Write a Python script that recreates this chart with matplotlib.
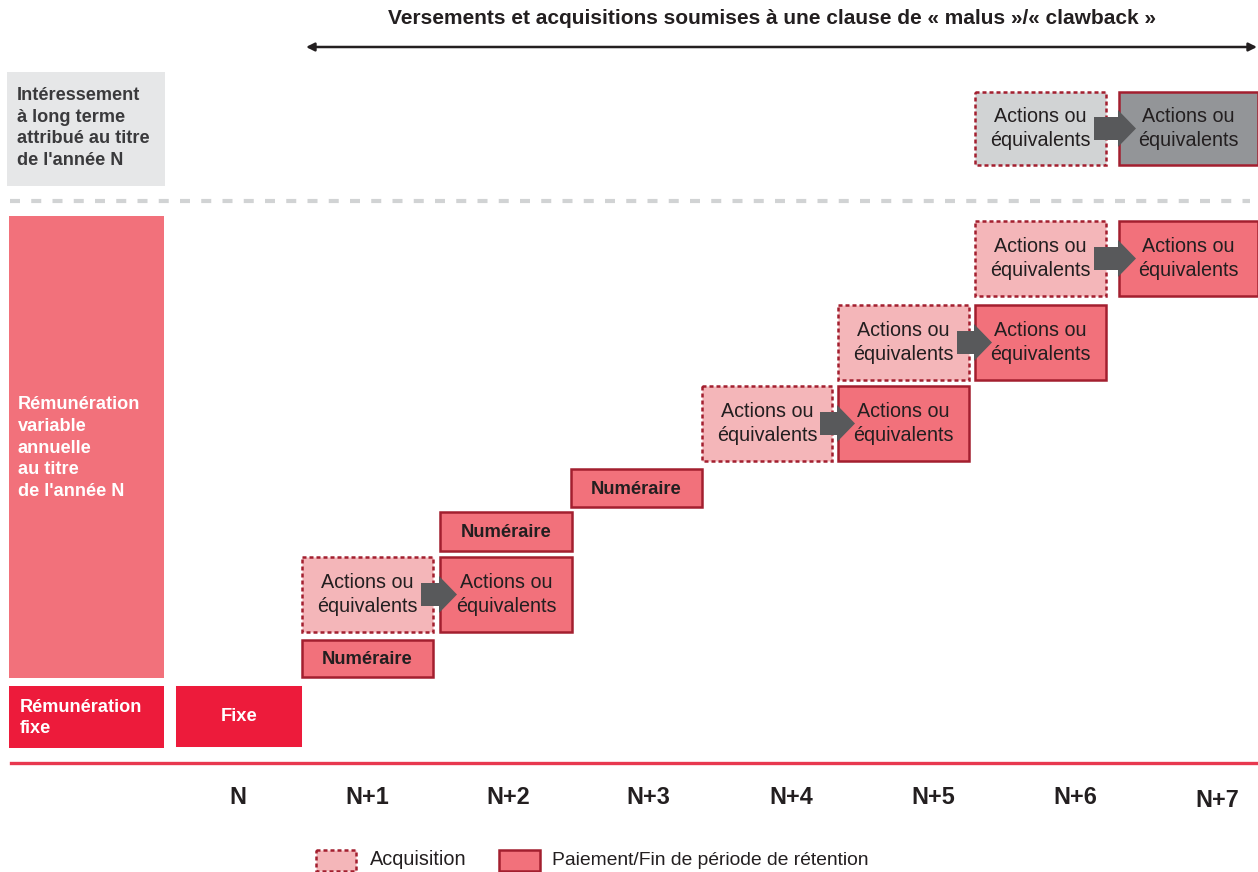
import matplotlib
matplotlib.use("Agg")
import matplotlib.pyplot as plt
from matplotlib.patches import Rectangle, FancyArrow

plt.rcParams['font.family'] = ['Liberation Sans', 'DejaVu Sans']

# ---------------- data ----------------
years = ['N', 'N+1', 'N+2', 'N+3', 'N+4', 'N+5', 'N+6', 'N+7']
title = "Versements et acquisitions soumises à une clause de « malus »/« clawback »"
row_titles = ["Intéressement\nà long terme\nattribué au titre\nde l'année N",
              "Rémunération\nvariable\nannuelle\nau titre\nde l'année N",
              "Rémunération\nfixe"]
# boxes: slot (timeline position), row, kind, label
box_slot = [0, 1, 1, 2, 2, 3, 4, 5, 5, 6, 6, 7, 6, 7]
box_row = ['fixe', 'r0', 'r1', 'r1', 'r2', 'r3', 'r4', 'r4', 'r5', 'r5', 'r6', 'r6', 'lti', 'lti']
box_kind = ['fixe', 'paid', 'acq', 'paid', 'paid', 'paid', 'acq', 'paid', 'acq', 'paid',
            'acq', 'paid', 'lti_acq', 'lti_paid']
box_text = ['Fixe', 'Numéraire', 'Actions ou\néquivalents', 'Actions ou\néquivalents',
            'Numéraire', 'Numéraire', 'Actions ou\néquivalents', 'Actions ou\néquivalents',
            'Actions ou\néquivalents', 'Actions ou\néquivalents', 'Actions ou\néquivalents',
            'Actions ou\néquivalents', 'Actions ou\néquivalents', 'Actions ou\néquivalents']
# arrows: (index of acquisition box, index of payment box)
arrows = [(2, 3), (6, 7), (8, 9), (10, 11), (12, 13)]
legend_labels = ['Acquisition', 'Paiement/Fin de période de rétention']

# ---------------- layout / style ----------------
W, H = 1258, 872
slot_left = [176, 302, 440, 571, 702, 838, 975, 1119]
slot_w = [126, 131, 132, 131, 130, 131, 131, 139]
row_y = {'fixe': (686, 747), 'r0': (640, 677), 'r1': (557, 632), 'r2': (512, 551),
         'r3': (469, 507), 'r4': (386, 461), 'r5': (305, 380), 'r6': (221, 296),
         'lti': (92, 165)}
year_x = [238, 367, 508, 648, 791, 933, 1075, 1217]

RED = '#ed1b3b'
PINK = '#f2717b'
LPINK = '#f4b6b9'
DARKRED = '#a31f2f'
LGRAY = '#d1d3d4'
MGRAY = '#939598'
PANEL_GRAY = '#e6e7e8'
ARROW = '#58595b'
TXT = '#231f20'

styles = {
    'fixe': dict(fc=RED, ec=RED, ls='-', lw=0.01),
    'paid': dict(fc=PINK, ec=DARKRED, ls='-', lw=1.8),
    'acq': dict(fc=LPINK, ec=DARKRED, ls=(0, (1.6, 1.2)), lw=1.8),
    'lti_acq': dict(fc=LGRAY, ec=DARKRED, ls=(0, (1.6, 1.2)), lw=1.8),
    'lti_paid': dict(fc=MGRAY, ec=DARKRED, ls='-', lw=1.8),
}

fig = plt.figure(figsize=(W / 100, H / 100), dpi=100)
ax = fig.add_axes([0, 0, 1, 1])
ax.set_xlim(0, W)
ax.set_ylim(H, 0)
ax.axis('off')

# title and double arrow
ax.text(772, 19, title, ha='center', va='center', fontsize=15, fontweight='bold', color=TXT)
ax.annotate('', xy=(1257, 47), xytext=(306, 47),
            arrowprops=dict(arrowstyle='<|-|>', color=TXT, lw=1.8, mutation_scale=12,
                            shrinkA=0, shrinkB=0))

# left panels
LBL = 13.1
ax.add_patch(Rectangle((7, 72), 158, 114, fc=PANEL_GRAY, ec='none'))
ax.text(17, 128, row_titles[0], ha='left', va='center', fontsize=LBL, fontweight='bold',
        color='#3a3a3c', linespacing=1.38)
ax.add_patch(Rectangle((9, 216), 155, 462, fc=PINK, ec='none'))
ax.text(18, 448, row_titles[1], ha='left', va='center', fontsize=LBL, fontweight='bold',
        color='white', linespacing=1.38)
ax.add_patch(Rectangle((9, 686), 155, 62, fc=RED, ec='none'))
ax.text(20, 718, row_titles[2], ha='left', va='center', fontsize=LBL, fontweight='bold',
        color='white', linespacing=1.38)

# separators
ax.plot([10, 1250], [201, 201], color='#d1d3d4', lw=3, ls=(0, (2.4, 2.7)), solid_capstyle='butt')
ax.plot([11, 1258], [763, 763], color='#e8384f', lw=2.4)

# boxes
for s, r, k, t in zip(box_slot, box_row, box_kind, box_text):
    y0, y1 = row_y[r]
    x0 = slot_left[s]
    w = slot_w[s]
    st = styles[k]
    ax.add_patch(Rectangle((x0, y0), w, y1 - y0, facecolor=st['fc'], edgecolor=st['ec'],
                           linestyle=st['ls'], linewidth=st['lw'], zorder=2))
    if k == 'fixe':
        ax.text(x0 + w / 2, (y0 + y1) / 2, t, ha='center', va='center', fontsize=13.2,
                fontweight='bold', color='white', zorder=4)
    elif '\n' in t:
        ax.text(x0 + w / 2, (y0 + y1) / 2, t, ha='center', va='center', fontsize=14.2,
                color=TXT, linespacing=1.3, zorder=4)
    else:
        ax.text(x0 + w / 2, (y0 + y1) / 2 + 1, t, ha='center', va='center', fontsize=13.2,
                fontweight='bold', color=TXT, zorder=4)

# block arrows
for a, b in arrows:
    ya0, ya1 = row_y[box_row[a]]
    xa = slot_left[box_slot[a]] + slot_w[box_slot[a]] - 12
    xb = slot_left[box_slot[b]] + 17
    yc = (ya0 + ya1) / 2
    ax.add_patch(FancyArrow(xa, yc, xb - xa, 0, width=23, head_width=37, head_length=18,
                            length_includes_head=True, fc=ARROW, ec='none', zorder=3))

# year labels
for i, (lab, x) in enumerate(zip(years, year_x)):
    ax.text(x, 797 + (3 if i == len(years) - 1 else 0), lab, ha='center', va='center',
            fontsize=16.8, fontweight='bold', color=TXT)

# legend
ax.add_patch(Rectangle((316, 850), 40, 21, fc=LPINK, ec=DARKRED, ls=(0, (1.6, 1.2)), lw=1.8))
ax.text(370, 859, legend_labels[0], ha='left', va='center', fontsize=14.3, color=TXT)
ax.add_patch(Rectangle((499, 850), 41, 21, fc=PINK, ec=DARKRED, ls='-', lw=1.8))
ax.text(552, 860, legend_labels[1], ha='left', va='center', fontsize=13.9, color=TXT)

fig.savefig('out.png', dpi=100)
